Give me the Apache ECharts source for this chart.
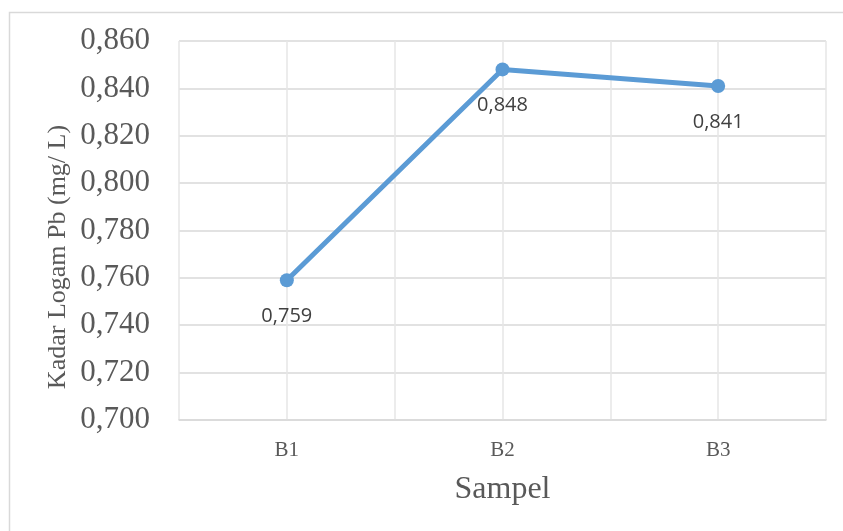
<!DOCTYPE html>
<html>
<head>
<meta charset="utf-8">
<script src="https://cdn.jsdelivr.net/npm/echarts@6/dist/echarts.min.js"></script>
<style>
html,body{margin:0;padding:0;background:#fff;}
#chart{width:843px;height:531px;}
</style>
</head>
<body>
<div id="chart"></div>
<script>
const categories = ["B1", "B2", "B3"];
const values = [0.759, 0.848, 0.841];
const yMin = 0.700, yMax = 0.860, yStep = 0.020;
const yTitle = "Kadar Logam Pb (mg/ L)";
const xTitle = "Sampel";

const fmt = v => v.toFixed(3).replace('.', ',');
const chart = echarts.init(document.getElementById('chart'), null, {renderer: 'canvas'});
chart.setOption({
  animation: false,
  backgroundColor: '#fff',
  graphic: [{
    type: 'rect', left: 7, top: 10, z: -10,
    shape: {width: 900, height: 600},
    style: {fill: 'none', stroke: '#d9d9d9', lineWidth: 1.5}
  }, {
    type: 'text', x: 58, y: 257, rotation: Math.PI / 2,
    style: {text: yTitle, fill: '#595959', font: '26px "Liberation Serif"',
      align: 'center', verticalAlign: 'middle'}
  }],
  grid: {left: 179, right: 17, top: 41, bottom: 111, containLabel: false},
  xAxis: [{
    type: 'category', data: categories, boundaryGap: true,
    axisLine: {show: true, lineStyle: {color: '#d9d9d9', width: 1.5}},
    axisTick: {show: false},
    splitLine: {show: false},
    axisLabel: {color: '#595959', fontFamily: 'Liberation Serif', fontSize: 21, margin: 20},
    name: xTitle, nameLocation: 'middle', nameGap: 54,
    nameTextStyle: {color: '#595959', fontFamily: 'Liberation Serif', fontSize: 32}
  }, {
    type: 'value', min: 0, max: 6, interval: 1, position: 'bottom',
    axisLine: {show: false}, axisTick: {show: false}, axisLabel: {show: false},
    splitLine: {show: true, lineStyle: {color: '#e6e6e6', width: 1.5}}
  }],
  yAxis: {
    type: 'value', min: yMin, max: yMax, interval: yStep,
    axisLine: {show: false}, axisTick: {show: false},
    splitLine: {show: true, lineStyle: {color: '#d9d9d9', width: 1.5}},
    axisLabel: {color: '#595959', fontFamily: 'Liberation Serif', fontSize: 31, margin: 29, formatter: v => fmt(v)}
  },
  series: [{
    type: 'line', data: values, xAxisIndex: 0,
    symbol: 'circle', symbolSize: 14,
    lineStyle: {color: '#5b9bd5', width: 5},
    itemStyle: {color: '#5b9bd5'},
    label: {show: true, position: 'bottom', distance: 19, color: '#404040',
      fontFamily: 'Open Sans', fontSize: 20, formatter: p => fmt(p.value)}
  }]
});
</script>
</body>
</html>
